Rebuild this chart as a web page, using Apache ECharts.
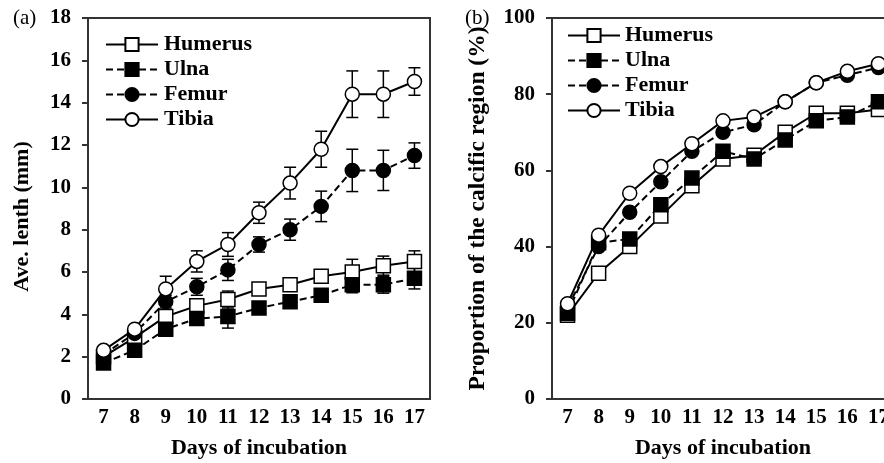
<!DOCTYPE html>
<html>
<head>
<meta charset="utf-8">
<script src="https://cdn.jsdelivr.net/npm/echarts@6/dist/echarts.min.js"></script>
<style>
  html, body { margin: 0; padding: 0; background: #fff; }
  #chart { width: 884px; height: 463px; }
</style>
</head>
<body>
<div id="chart"></div>
<script>
const days = ["7", "8", "9", "10", "11", "12", "13", "14", "15", "16", "17"];
const bones = ["Humerus", "Ulna", "Femur", "Tibia"];

// (a) average length, mm
const humerusLen = [2.0, 2.9, 3.9, 4.4, 4.7, 5.2, 5.4, 5.8, 6.0, 6.3, 6.5];
const ulnaLen = [1.7, 2.3, 3.3, 3.8, 3.9, 4.3, 4.6, 4.9, 5.4, 5.4, 5.7];
const femurLen = [2.1, 3.1, 4.6, 5.3, 6.1, 7.3, 8.0, 9.1, 10.8, 10.8, 11.5];
const tibiaLen = [2.3, 3.3, 5.2, 6.5, 7.3, 8.8, 10.2, 11.8, 14.4, 14.4, 15.0];

// (a) error (+/-)
const humerusErr = [0.1, 0.2, 0.25, 0.3, 0.4, 0.25, 0.2, 0.2, 0.6, 0.45, 0.5];
const ulnaErr = [0.1, 0.15, 0.25, 0.25, 0.55, 0.2, 0.2, 0.2, 0.38, 0.4, 0.5];
const femurErr = [0.1, 0.15, 0.3, 0.4, 0.5, 0.36, 0.5, 0.72, 1.0, 0.95, 0.6];
const tibiaErr = [0.1, 0.15, 0.6, 0.5, 0.56, 0.5, 0.75, 0.85, 1.1, 1.1, 0.65];

// (b) proportion of the calcific region, %
const humerusPct = [22, 33, 40, 48, 56, 63, 64, 70, 75, 75, 76];
const ulnaPct = [22.5, 41, 42, 51, 58, 65, 63, 68, 73, 74, 78];
const femurPct = [24, 40, 49, 57, 65, 70, 72, 78, 83, 85, 87];
const tibiaPct = [25, 43, 54, 61, 67, 73, 74, 78, 83, 86, 88];

const font = "Liberation Serif";
const ink = "#000";

const styles = {
  Humerus: { symbol: "rect", fill: "#fff", dash: "solid" },
  Ulna: { symbol: "rect", fill: ink, dash: [7, 4] },
  Femur: { symbol: "circle", fill: ink, dash: [7, 4] },
  Tibia: { symbol: "circle", fill: "#fff", dash: "solid" },
};

function lineSeries(name, values, idx) {
  const s = styles[name];
  return {
    name: name,
    type: "line",
    xAxisIndex: idx,
    yAxisIndex: idx,
    data: values,
    symbol: s.symbol,
    symbolSize: 14,
    z: 3,
    lineStyle: { color: ink, width: 2, type: s.dash },
    itemStyle: { color: s.fill, borderColor: ink, borderWidth: 1.5 },
    emphasis: { disabled: true },
  };
}

function renderErr(params, api) {
  const x = api.value(0);
  const top = api.coord([x, api.value(2)]);
  const bot = api.coord([x, api.value(1)]);
  const st = { stroke: ink, lineWidth: 1.5 };
  return {
    type: "group",
    children: [
      { type: "line", shape: { x1: top[0], y1: top[1], x2: bot[0], y2: bot[1] }, style: st },
      { type: "line", shape: { x1: top[0] - 6, y1: top[1], x2: top[0] + 6, y2: top[1] }, style: st },
      { type: "line", shape: { x1: bot[0] - 6, y1: bot[1], x2: bot[0] + 6, y2: bot[1] }, style: st },
    ],
  };
}

function errSeries(values, errs) {
  return {
    type: "custom",
    xAxisIndex: 0,
    yAxisIndex: 0,
    z: 2,
    renderItem: renderErr,
    encode: { x: 0, y: [1, 2] },
    data: values.map((v, i) => [i, v - errs[i], v + errs[i]]),
    silent: true,
  };
}

const labelStyle = { fontFamily: font, fontWeight: "bold", fontSize: 21, color: ink };

function nameStyle(size, pad) {
  return { fontFamily: font, fontWeight: "bold", fontSize: size, color: ink, padding: pad || 0 };
}

function xAxis(idx) {
  return {
    type: "category",
    gridIndex: idx,
    data: days,
    boundaryGap: true,
    name: "Days of incubation",
    nameLocation: "middle",
    nameGap: 38,
    nameTextStyle: nameStyle(22),
    axisLine: { lineStyle: { color: "#333", width: 2 } },
    axisTick: { show: false },
    axisLabel: Object.assign({ margin: 8, interval: 0 }, labelStyle),
    splitLine: { show: false },
  };
}

function yAxis(idx, max, step, name, gap, size, pad) {
  return {
    type: "value",
    gridIndex: idx,
    min: 0,
    max: max,
    interval: step,
    name: name,
    nameLocation: "middle",
    nameGap: gap,
    nameTextStyle: nameStyle(size, pad),
    axisLine: { show: true, lineStyle: { color: "#333", width: 2 } },
    axisTick: { show: true, inside: false, length: 6, lineStyle: { color: "#333", width: 2 } },
    axisLabel: Object.assign({ margin: 17 }, labelStyle),
    splitLine: { show: false },
  };
}

function legend(left, top, pad) {
  return {
    data: bones,
    orient: "vertical",
    left: left,
    top: top,
    itemWidth: 52,
    itemHeight: 16.5,
    itemGap: 0,
    selectedMode: false,
    textStyle: { fontFamily: font, fontWeight: "bold", fontSize: 22, color: ink, lineHeight: 25, padding: [0, 0, 0, pad] },
  };
}

const chart = echarts.init(document.getElementById("chart"), null, { renderer: "canvas" });

chart.setOption({
  animation: false,
  backgroundColor: "#fff",
  grid: [
    { left: 88, top: 18, width: 342, height: 381, show: true, borderColor: "#333", borderWidth: 2, outerBoundsMode: "none" },
    { left: 552, top: 18, width: 342, height: 381, show: true, borderColor: "#333", borderWidth: 2, outerBoundsMode: "none" },
  ],
  legend: [legend(100, 27, 1), legend(562, 18, 0)],
  xAxis: [xAxis(0), xAxis(1)],
  yAxis: [
    yAxis(0, 18, 2, "Ave. lenth (mm)", 55, 22, [0, 16, 0, 0]),
    yAxis(1, 100, 20, "Proportion of the calcific region (%)", 62, 23.5),
  ],
  graphic: [
    { type: "text", left: 13, top: 8, style: { text: "(a)", font: "21px 'Liberation Serif'", fill: ink } },
    { type: "text", left: 465, top: 8, style: { text: "(b)", font: "21px 'Liberation Serif'", fill: ink } },
  ],
  series: [
    errSeries(humerusLen, humerusErr),
    errSeries(ulnaLen, ulnaErr),
    errSeries(femurLen, femurErr),
    errSeries(tibiaLen, tibiaErr),
    lineSeries("Humerus", humerusLen, 0),
    lineSeries("Ulna", ulnaLen, 0),
    lineSeries("Femur", femurLen, 0),
    lineSeries("Tibia", tibiaLen, 0),
    lineSeries("Humerus", humerusPct, 1),
    lineSeries("Ulna", ulnaPct, 1),
    lineSeries("Femur", femurPct, 1),
    lineSeries("Tibia", tibiaPct, 1),
  ],
});
</script>
</body>
</html>
